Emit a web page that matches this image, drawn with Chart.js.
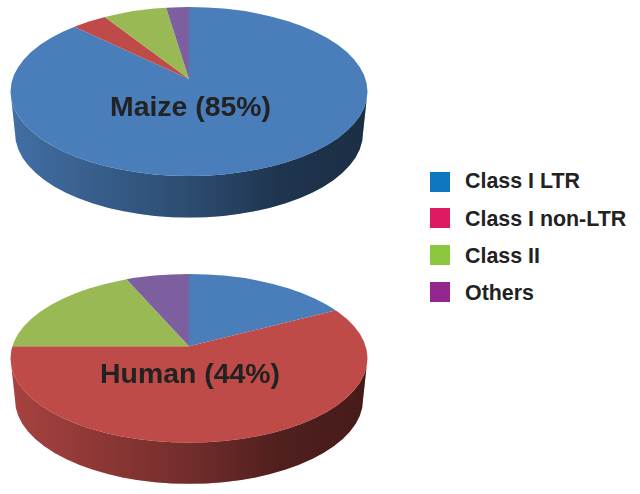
<!DOCTYPE html>
<html>
<head>
<meta charset="utf-8">
<style>
  body { margin: 0; background: #fff; width: 640px; height: 494px; overflow: hidden; position: relative; }
  canvas { position: absolute; left: 0; }
  #maize { top: 0; }
  #human { top: 247px; }
  .key { position: absolute; left: 430px; width: 20px; height: 20px; }
  .keytext { position: absolute; left: 465px; font: bold 21.4px "Liberation Sans", Arial, sans-serif; color: #222; line-height: 24px; white-space: nowrap; }
</style>
<script src="https://cdn.jsdelivr.net/npm/chart.js@4"></script>
</head>
<body>
<canvas id="maize" width="380" height="247"></canvas>
<canvas id="human" width="380" height="247"></canvas>
<script>
const categories = ['Class I LTR', 'Class I non-LTR', 'Class II', 'Others'];
const maizeValues = [87.2, 3.7, 6.7, 2.4];
const humanValues = [17.4, 57.6, 18.4, 6.6];
const sliceColors = ['#4A7EBB', '#BE4B48', '#98B954', '#7D5FA0'];
const keyColors = ['#0E76BC', '#DE1A62', '#8DC63F', '#92278F'];

// the pies are tilted, so the wedge tip sits above the middle of the ellipse
const pie3d = {
    id: 'pie3d',
    beforeDatasetDraw(chart, args, opts) {
        const ctx = chart.ctx;
        const meta = chart.getDatasetMeta(0);

        // side wall
        meta.data.forEach(function(arc, i) {
            const two = Math.PI * 2;
            let a = arc.startAngle, b = arc.endAngle;
            if (a < 0 && b <= 0) { a += two; b += two; }
            a = Math.max(a, 0);
            b = Math.min(b, Math.PI);
            if (b <= a) return;
            ctx.beginPath();
            ctx.ellipse(opts.cx, opts.faceY, opts.rx, opts.ry, 0, a, b);
            ctx.ellipse(opts.cx, opts.floorY, opts.floorRx, opts.ry, 0, b, a, true);
            ctx.closePath();
            ctx.fillStyle = sliceColors[i];
            ctx.fill();
            const shade = ctx.createLinearGradient(opts.cx - opts.rx, 0, opts.cx + opts.rx, 0);
            shade.addColorStop(0, 'rgba(0,0,0,0.12)');
            shade.addColorStop(0.5, 'rgba(0,0,0,0.40)');
            shade.addColorStop(0.75, 'rgba(0,0,0,0.58)');
            shade.addColorStop(1, 'rgba(0,0,0,0.64)');
            ctx.fillStyle = shade;
            ctx.fill();
        });

        // top face, clipped to the ellipse
        const c = meta.data[0];
        ctx.save();
        ctx.beginPath();
        ctx.ellipse(opts.cx, opts.faceY, opts.rx, opts.ry, 0, 0, Math.PI * 2);
        ctx.clip();
        ctx.translate(opts.cx, opts.apexY);
        ctx.scale(2, 2 * opts.ry / opts.rx);
        ctx.translate(-c.x, -c.y);
    },
    afterDatasetDraw(chart) {
        chart.ctx.restore();
    },
    afterDraw(chart, args, opts) {
        const ctx = chart.ctx;
        ctx.save();
        ctx.font = 'bold 28.4px "Liberation Sans", Arial, sans-serif';
        ctx.fillStyle = '#222';
        ctx.textAlign = 'center';
        ctx.fillText(opts.label, opts.labelX, opts.labelY);
        ctx.restore();
    }
};

function makePie(id, values, shape) {
    return new Chart(document.getElementById(id), {
        type: 'pie',
        data: {
            labels: categories,
            datasets: [{ data: values, backgroundColor: sliceColors, borderWidth: 0 }]
        },
        options: {
            responsive: false,
            animation: false,
            plugins: {
                legend: { display: false },
                tooltip: { enabled: false },
                pie3d: shape
            }
        },
        plugins: [pie3d]
    });
}

makePie('maize', maizeValues, {
    cx: 189, apexY: 79, faceY: 91.5, floorY: 133, rx: 178.5, floorRx: 174, ry: 84.5,
    label: 'Maize (85%)', labelX: 190.5, labelY: 115.7
});
makePie('human', humanValues, {
    cx: 189, apexY: 99.3, faceY: 111.3, floorY: 152.5, rx: 178.5, floorRx: 174, ry: 84.3,
    label: 'Human (44%)', labelX: 190, labelY: 136
});

// legend
categories.forEach(function(name, i) {
    const top = [172, 208, 245, 282][i];
    const box = document.createElement('div');
    box.className = 'key';
    box.style.top = top + 'px';
    box.style.background = keyColors[i];
    document.body.appendChild(box);
    const text = document.createElement('div');
    text.className = 'keytext';
    text.style.top = [169, 207, 244, 281][i] + 'px';
    text.textContent = name;
    document.body.appendChild(text);
});
</script>
</body>
</html>
